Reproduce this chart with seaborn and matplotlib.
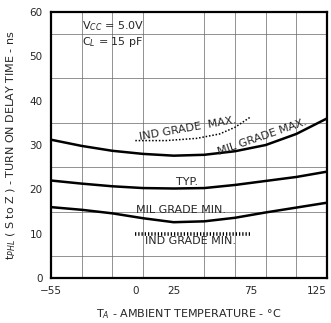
### t_PHL turn-on delay vs ambient temperature ###

import matplotlib
matplotlib.use("Agg")
import matplotlib.pyplot as plt
import numpy as np
import pandas as pd
import seaborn as sns

temps = [-55, -35, -15, 5, 25, 45, 65, 85, 105, 125]
mil_max = [31.2, 29.8, 28.7, 28.0, 27.6, 27.8, 28.6, 30.0, 32.5, 36.0]
typ = [22.0, 21.3, 20.7, 20.3, 20.2, 20.3, 21.0, 21.9, 22.8, 24.0]
mil_min = [16.0, 15.4, 14.6, 13.5, 12.6, 12.8, 13.6, 14.8, 15.9, 17.0]

# industrial grade curves only cover part of the range
ind_temps = [0, 20, 40, 55, 65, 75]
ind_max = [31.0, 31.0, 31.5, 32.5, 34.0, 36.3]
ind_min_temps = [0, 75]
ind_min = [10.0, 10.0]

x_ticks = [-55, 0, 25, 75, 125]
y_ticks = [0, 10, 20, 30, 40, 50, 60]

sns.set_style("white")
plt.rcParams["font.family"] = ["Liberation Sans Narrow", "DejaVu Sans"]

fig = plt.figure(figsize=(3.31, 3.23), dpi=100)
ax = fig.add_axes([0.154, 0.139, 0.834, 0.824])

df = pd.DataFrame({"T": temps, "mil_max": mil_max, "typ": typ, "mil_min": mil_min})
for col in ["mil_max", "typ", "mil_min"]:
    sns.lineplot(data=df, x="T", y=col, ax=ax, color="black", linewidth=1.8)
sns.lineplot(x=ind_temps, y=ind_max, ax=ax, color="black", linewidth=1.1, linestyle=(0, (1, 1.2)))
sns.lineplot(x=ind_min_temps, y=ind_min, ax=ax, color="black", linewidth=2.6, linestyle=(0, (0.35, 0.55)))

ax.set_xlim(-55, 125)
ax.set_ylim(0, 60)
ax.set_xticks(x_ticks)
ax.set_yticks(y_ticks)
ax.set_xticks(np.arange(-55, 126, 20), minor=True)
ax.set_yticks(np.arange(0, 61, 5), minor=True)
ax.grid(which="minor", color="#666666", linewidth=0.5)
ax.grid(which="major", visible=False)
ax.tick_params(which="both", length=0, labelsize=7.5, pad=6)
labels = ax.get_xticklabels()
labels[-1].set_horizontalalignment("right")
labels[-1].set_x(labels[-1].get_position()[0])
for s in ax.spines.values():
    s.set_color("black")
    s.set_linewidth(1.6)

ax.set_xlabel("T$_A$ - AMBIENT TEMPERATURE - °C", fontsize=8, labelpad=8)
ax.set_ylabel("t$_{PHL}$ ( S to Z ) - TURN ON DELAY TIME - ns", fontsize=8, labelpad=8)

ax.text(-35, 56, "V$_{CC}$ = 5.0V", fontsize=8)
ax.text(-35, 52.5, "C$_L$ = 15 pF", fontsize=8)
ax.text(34, 33.8, "IND GRADE  MAX.", fontsize=8, ha="center", va="center", rotation=10)
ax.text(83, 31.8, "MIL GRADE MAX.", fontsize=8, ha="center", va="center", rotation=19)
ax.text(34, 21.7, "TYP.", fontsize=8, ha="center", va="center")
ax.text(30, 15.3, "MIL GRADE MIN.", fontsize=8, ha="center", va="center")
ax.text(36, 8.4, "IND GRADE MIN.", fontsize=8, ha="center", va="center")

plt.savefig("out.png", dpi=100)
